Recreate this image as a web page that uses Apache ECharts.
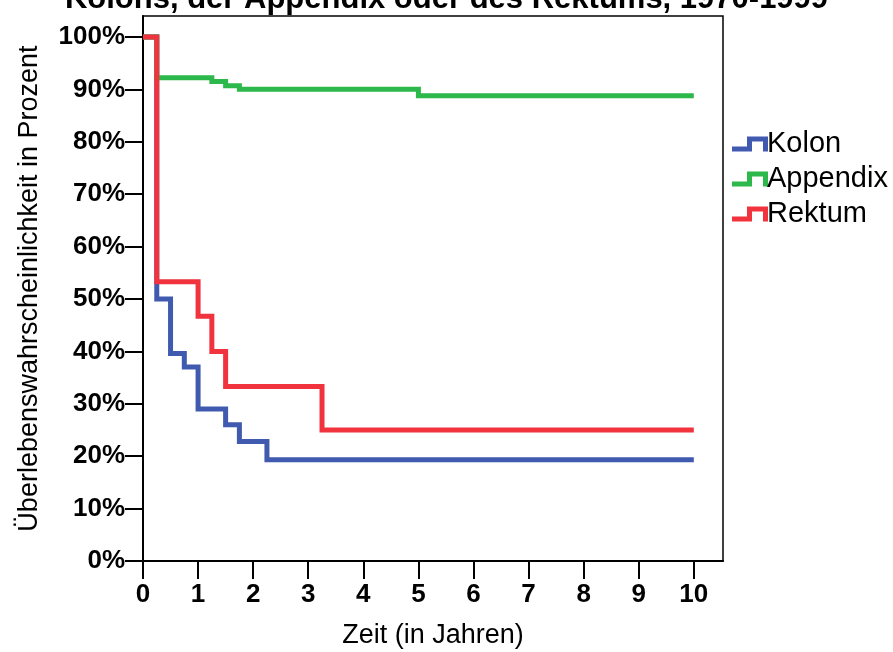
<!DOCTYPE html>
<html>
<head>
<meta charset="utf-8">
<script src="https://cdn.jsdelivr.net/npm/echarts@6/dist/echarts.min.js"></script>
<style>
  html, body { margin: 0; padding: 0; background: #fff; }
  #chart { width: 893px; height: 652px; }
</style>
</head>
<body>
<div id="chart"></div>
<script>
// Kaplan-Meier survival estimates (percent) at each event time (years)
const kolonTime = [0, 0.25, 0.5, 0.75, 1.0, 1.5, 1.75, 2.25, 10];
const kolonSurv = [100, 50.0, 39.6, 37.0, 29.0, 26.0, 22.8, 19.3, 19.3];

const appendixTime = [0, 0.25, 1.25, 1.5, 1.75, 5.0, 10];
const appendixSurv = [100, 92.2, 91.5, 90.7, 90.0, 88.8, 88.8];

const rektumTime = [0, 0.25, 1.0, 1.25, 1.5, 3.25, 10];
const rektumSurv = [100, 53.3, 46.7, 40.0, 33.3, 25.0, 25.0];

const seriesNames = ['Kolon', 'Appendix', 'Rektum'];
const seriesColors = ['#3F5AAF', '#2DB84B', '#F0333D'];

const xTicks = [0, 1, 2, 3, 4, 5, 6, 7, 8, 9, 10];
const yTicks = [0, 10, 20, 30, 40, 50, 60, 70, 80, 90, 100];

const titleText = 'Kolons, der Appendix oder des Rektums, 1970-1999';
const xName = 'Zeit (in Jahren)';
const yName = 'Überlebenswahrscheinlichkeit in Prozent';

const pairs = (t, s) => t.map((v, i) => [v, s[i]]);
const curves = [
  pairs(kolonTime, kolonSurv),
  pairs(appendixTime, appendixSurv),
  pairs(rektumTime, rektumSurv)
];

const FONT = '"Liberation Sans", Arial, sans-serif';
// step-shaped legend glyph, 5px stroke
const stepIcon = 'path://M0,10 L15,10 L15,0 L36,0 L36,15 L31,15 L31,5 L20,5 L20,15 L0,15 Z';

const chart = echarts.init(document.getElementById('chart'), null, { renderer: 'canvas' });

chart.setOption({
  backgroundColor: '#ffffff',
  animation: false,
  title: {
    text: titleText,
    left: 'center',
    top: -21,
    textStyle: { fontFamily: FONT, fontSize: 31, fontWeight: 'bold', color: '#000' }
  },
  legend: {
    orient: 'vertical',
    left: 727,
    top: 124,
    icon: stepIcon,
    itemWidth: 36,
    itemHeight: 15,
    itemGap: 5,
    data: seriesNames,
    itemStyle: { borderWidth: 0 },
    textStyle: { fontFamily: FONT, fontSize: 29, color: '#000', padding: [0, 0, 0, -6], lineHeight: 30 }
  },
  grid: {
    left: 143, right: 170, top: 16, bottom: 91,
    show: true,
    borderColor: '#000',
    borderWidth: 1.5,
    containLabel: false,
    outerBoundsMode: 'none'
  },
  xAxis: {
    type: 'value',
    min: 0,
    max: 10.53,
    name: xName,
    nameLocation: 'middle',
    nameGap: 61,
    nameTextStyle: { fontFamily: FONT, fontSize: 27, color: '#000' },
    axisLine: { show: true, lineStyle: { color: '#000', width: 2 } },
    axisTick: { show: true, length: 18, customValues: xTicks, lineStyle: { color: '#000', width: 2 } },
    axisLabel: {
      customValues: xTicks,
      margin: 21,
      fontFamily: FONT, fontSize: 26, fontWeight: 'bold', color: '#000'
    },
    splitLine: { show: false }
  },
  yAxis: {
    type: 'value',
    min: 0,
    max: 104,
    name: yName,
    nameLocation: 'middle',
    nameRotate: 90,
    nameGap: 100,
    nameTextStyle: { fontFamily: FONT, fontSize: 27, color: '#000' },
    axisLine: { show: true, lineStyle: { color: '#000', width: 2 } },
    axisTick: { show: true, length: 18, customValues: yTicks, lineStyle: { color: '#000', width: 2 } },
    axisLabel: {
      customValues: yTicks,
      margin: 18,
      formatter: v => v + '%',
      fontFamily: FONT, fontSize: 26, fontWeight: 'bold', color: '#000'
    },
    splitLine: { show: false }
  },
  series: seriesNames.map((name, i) => ({
    name: name,
    type: 'line',
    step: 'end',
    data: curves[i],
    showSymbol: false,
    symbol: 'none',
    color: seriesColors[i],
    itemStyle: { color: seriesColors[i] },
    lineStyle: { color: seriesColors[i], width: 5, join: 'miter', cap: 'butt' },
    z: 2 + i
  }))
});
</script>
</body>
</html>
